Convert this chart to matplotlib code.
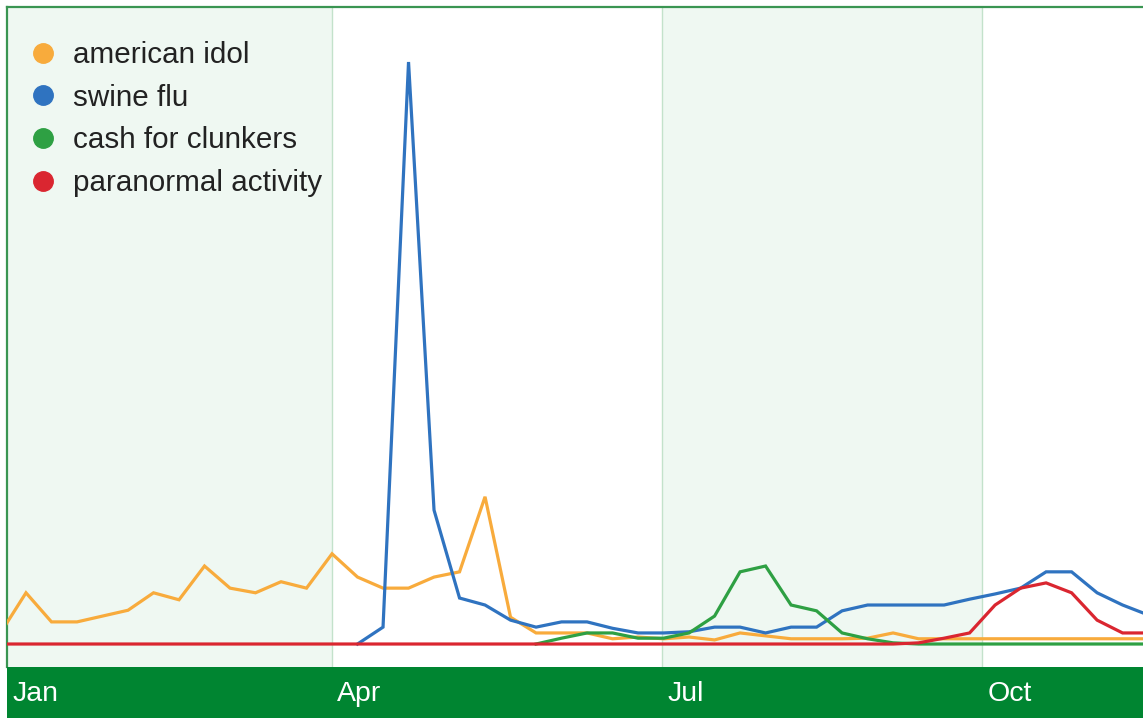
import numpy as np
import matplotlib
matplotlib.use("Agg")
import matplotlib.pyplot as plt
from matplotlib.lines import Line2D

# weekly search interest, 2009 (week -1 sits just left of the visible window)
weeks = np.arange(-1, 45)
nan = np.nan

american_idol = [1.9, 8.8, 3.8, 3.8, 4.8, 5.8, 8.8, 7.6, 13.4, 9.6, 8.8, 10.7, 9.6,
                 15.5, 11.5, 9.6, 9.6, 11.5, 12.4, 25.3, 4.6, 1.9, 1.9, 1.9,
                 0.9, 1.2, 0.9, 1.2, 0.7, 1.9, 1.4, 0.9, 0.9, 0.9, 1.0, 1.9,
                 0.9, 0.9, 0.9, 0.9, 0.9, 0.9, 0.9, 0.9, 0.9, 0.9]
swine_flu = [nan] * 14 + [0.0, 2.9, 100.0, 23.0, 7.9, 6.7, 4.1, 2.9, 3.8, 3.8,
                          2.7, 1.9, 1.9, 2.1, 2.9, 2.9, 1.9, 2.9, 2.9, 5.7, 6.7,
                          6.7, 6.7, 6.7, 7.7, 8.6, 9.6, 12.4, 12.4, 8.8, 6.7, 5.0]
cash_for_clunkers = [nan] * 21 + [0.0, 1.0, 1.9, 1.9, 1.0, 1.0, 1.9, 4.8, 12.4,
                                  13.4, 6.7, 5.7, 1.9, 0.9, 0.2, 0, 0, 0, 0, 0,
                                  0, 0, 0, 0, 0]
paranormal_activity = [0.0] * 36 + [0.2, 1.0, 1.9, 6.7, 9.6, 10.5, 8.8, 4.1, 1.9, 1.9]

series = [
    ("american idol", american_idol, "#f8ab3c"),
    ("swine flu", swine_flu, "#2f73c0"),
    ("cash for clunkers", cash_for_clunkers, "#2ea043"),
    ("paranormal activity", paranormal_activity, "#da2630"),
]

quarter_labels = ["Jan", "Apr", "Jul", "Oct"]
quarter_pos = [-0.745, 12.0, 24.94, 37.49]

W, H = 1143, 718
fig = plt.figure(figsize=(W / 100, H / 100), dpi=100)

ax = fig.add_axes([7 / W, 51 / H, 1136 / W, 660 / H])
ax.set_xlim(-0.745, 43.8)
ax.set_ylim(-3.95, 109.45)

shade = "#eff8f2"
ax.axvspan(quarter_pos[0], quarter_pos[1], color=shade, lw=0, zorder=0)
ax.axvspan(quarter_pos[2], quarter_pos[3], color=shade, lw=0, zorder=0)
for q in quarter_pos[1:]:
    ax.axvline(q, color="#c3e2cb", lw=1, zorder=1)

for name, vals, col in series:
    ax.plot(weeks, vals, color=col, lw=2.3, zorder=3, solid_joinstyle="miter")

ax.set_xticks([])
ax.set_yticks([])
for side in ["right", "bottom"]:
    ax.spines[side].set_visible(False)
for side in ["left", "top"]:
    ax.spines[side].set_color("#3a9552")
    ax.spines[side].set_linewidth(1.6)

handles = [Line2D([], [], ls="none", marker="o", markersize=14,
                  markerfacecolor=c, markeredgecolor=c) for _, _, c in series]
labels = [n for n, _, _ in series]
leg = ax.legend(handles, labels, loc="upper left", bbox_to_anchor=(0.003, 0.98),
                frameon=False, fontsize=21.3, handlelength=0.8, handletextpad=0.6,
                labelspacing=0.5, borderaxespad=0.3,
                prop={"family": "Liberation Sans", "size": 21.3})
for t in leg.get_texts():
    t.set_color("#222222")

# dark green date bar under the plot
bar = fig.add_axes([7 / W, 0, 1136 / W, 51 / H], sharex=ax)
bar.set_facecolor("#008531")
bar.set_yticks([])
bar.tick_params(axis="x", length=0)
for s in bar.spines.values():
    s.set_visible(False)
bar.set_xticks([])
for q, lab in zip(quarter_pos, quarter_labels):
    bar.text(q + 0.2, 0.47, lab, transform=bar.get_xaxis_transform(),
             color="white", fontsize=20.5, family="Liberation Sans",
             ha="left", va="center")

fig.savefig("out.png", dpi=100)
